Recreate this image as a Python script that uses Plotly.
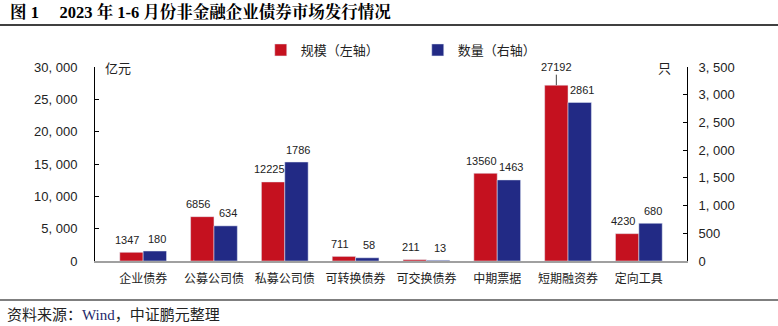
import plotly.graph_objects as go

categories = ["企业债券", "公募公司债", "私募公司债", "可转换债券", "可交换债券", "中期票据", "短期融资券", "定向工具"]
scale_values = [1347, 6856, 12225, 711, 211, 13560, 27192, 4230]
count_values = [180, 634, 1786, 58, 13, 1463, 2861, 680]
left_ticks = [0, 5000, 10000, 15000, 20000, 25000, 30000]
left_ticktext = ["0", "5, 000", "10, 000", "15, 000", "20, 000", "25, 000", "30, 000"]
right_ticks = [0, 500, 1000, 1500, 2000, 2500, 3000, 3500]
right_ticktext = ["0", "500", "1, 000", "1, 500", "2, 000", "2, 500", "3, 000", "3, 500"]

RED = "#C5111F"
BLUE = "#222A85"
CJK = "Noto Sans CJK SC, Arial, sans-serif"
NUM = "Arial, Liberation Sans, sans-serif"
LABEL_FONT = dict(size=11, color="#222", family=NUM)
HALF_BAR_PX = 11.7

fig = go.Figure()
fig.add_trace(go.Bar(
    x=categories, y=scale_values, name="规模（左轴）", marker_color=RED,
    offsetgroup="a", yaxis="y",
))
fig.add_trace(go.Bar(
    x=categories, y=count_values, name="数量（右轴）", marker_color=BLUE,
    offsetgroup="b", yaxis="y2",
))

# data labels
max_scale = max(scale_values)
for cat, v in zip(categories, scale_values):
    if v == max_scale:
        fig.add_annotation(x=cat, y=v, xref="x", yref="y", text=str(v), xshift=-HALF_BAR_PX,
                           showarrow=True, arrowhead=0, arrowwidth=1, arrowcolor="#444",
                           ax=0, ay=-18, standoff=0, font=LABEL_FONT)
    else:
        fig.add_annotation(x=cat, y=v, xref="x", yref="y", text=str(v),
                           xshift=-HALF_BAR_PX - 4, yshift=12.5, yanchor="middle",
                           showarrow=False, font=LABEL_FONT)
for cat, v in zip(categories, count_values):
    fig.add_annotation(x=cat, y=v, xref="x", yref="y2", text=str(v),
                       xshift=HALF_BAR_PX + 2, yshift=12.5, yanchor="middle",
                       showarrow=False, font=LABEL_FONT)

fig.update_layout(
    width=778, height=326,
    margin=dict(l=95, r=91, t=67, b=65),
    paper_bgcolor="white", plot_bgcolor="white",
    barmode="group", bargap=0.34, bargroupgap=0,
    font=dict(family=CJK, size=12, color="#222"),
    showlegend=True,
    legend=dict(orientation="h", x=0.28, y=1 + 17/194, xanchor="left", yanchor="middle",
                font=dict(size=13, family=CJK), entrywidth=112, entrywidthmode="pixels",
                itemwidth=30, bgcolor="rgba(0,0,0,0)"),
    xaxis=dict(range=[-0.68, 7.68], showline=True, linecolor="#A0A0A0", linewidth=1.5,
               ticks="", tickfont=dict(size=12, family=CJK), showgrid=False,
               ticklabelstandoff=6),
    yaxis=dict(range=[0, 30000], tickvals=left_ticks, ticktext=left_ticktext,
               showline=True, linecolor="#000", linewidth=1, ticks="inside", ticklen=4,
               tickcolor="#000", showgrid=False, zeroline=False, ticklabelstandoff=14,
               tickfont=dict(size=13, family=NUM, color="#222")),
    yaxis2=dict(range=[0, 3500], tickvals=right_ticks, ticktext=right_ticktext,
                overlaying="y", side="right",
                showline=True, linecolor="#000", linewidth=1, ticks="inside", ticklen=4,
                tickcolor="#000", showgrid=False, zeroline=False, ticklabelstandoff=8,
                tickfont=dict(size=13, family=NUM, color="#222")),
)

fig.add_annotation(text="<b>图 1     2023 年 1-6 月份非金融企业债券市场发行情况</b>",
                   xref="paper", yref="paper", x=-87/592, y=1 + (67-12)/194,
                   xanchor="left", yanchor="middle", showarrow=False,
                   font=dict(size=16.5, family="Liberation Serif, Noto Serif CJK SC, Noto Sans CJK SC", color="#000"))
fig.add_annotation(text="亿元", xref="paper", yref="paper", x=8/592, y=1,
                   xanchor="left", yanchor="middle", showarrow=False,
                   font=dict(size=13, family=CJK, color="#222"))
fig.add_annotation(text="只", xref="paper", yref="paper", x=1 - 14/592, y=1,
                   xanchor="right", yanchor="middle", showarrow=False,
                   font=dict(size=13, family=CJK, color="#222"))
fig.add_annotation(text="资料来源：<span style='color:#1F2A6B;font-family:Liberation Serif'>Wind</span>，中证鹏元整理",
                   xref="paper", yref="paper", x=-90/592, y=-(313-261)/194,
                   xanchor="left", yanchor="middle", showarrow=False,
                   font=dict(size=15, family=CJK, color="#222"))
fig.add_shape(type="line", xref="paper", yref="paper", x0=-95/592, x1=(778-95)/592,
              y0=1 + (67-25)/194, y1=1 + (67-25)/194, line=dict(color="#000", width=1.5))
fig.add_shape(type="line", xref="paper", yref="paper", x0=-95/592, x1=(778-95)/592,
              y0=-(300-261)/194, y1=-(300-261)/194, line=dict(color="#000", width=1.2))

fig.write_html("out.html")
